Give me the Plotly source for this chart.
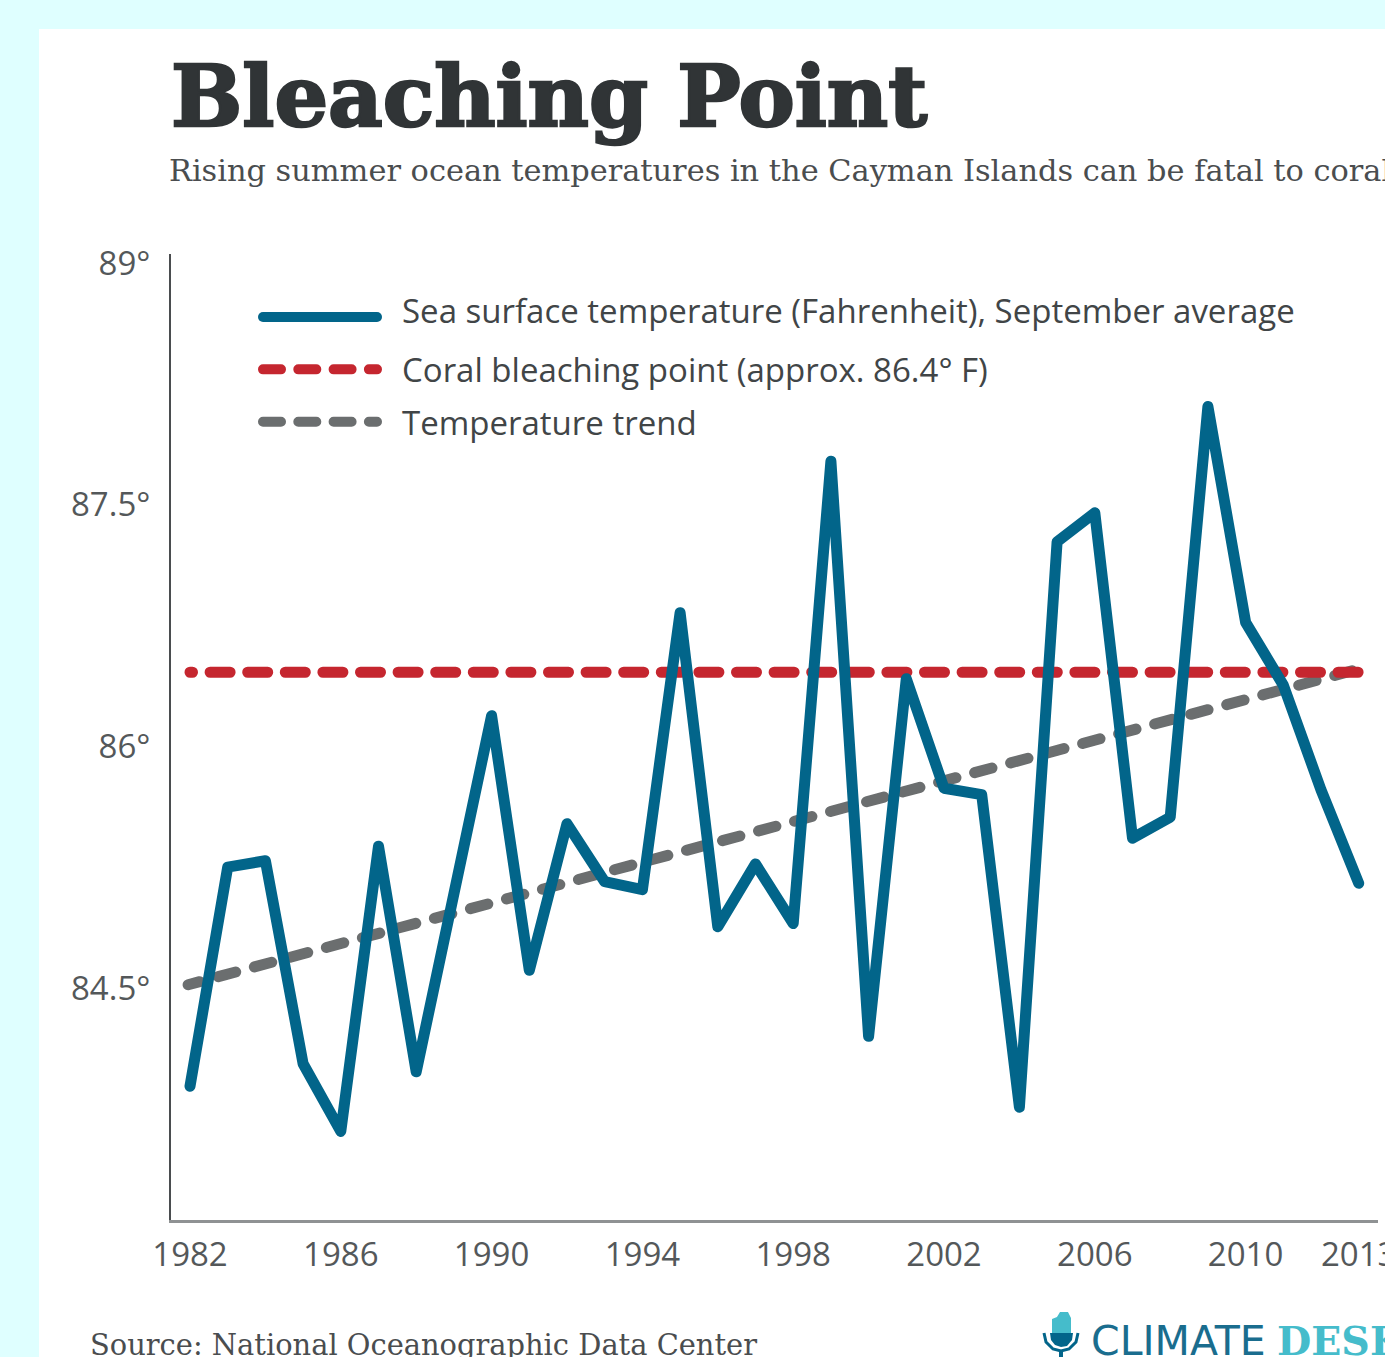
import plotly.graph_objects as go

years = list(range(1982, 2014))
sea_temp = [83.89, 85.25, 85.29, 84.03, 83.61, 85.38, 83.98, 85.09, 86.19, 84.61, 85.52,
            85.16, 85.11, 86.83, 84.88, 85.27, 84.90, 87.77, 84.20, 86.42, 85.74, 85.70,
            83.76, 87.27, 87.45, 85.43, 85.56, 88.11, 86.77, 86.38, 85.73, 85.15]
bleach_x = [1982, 2013]
bleach_y = [86.46, 86.46]
trend_x = [1981.95, 2013]
trend_y = [84.52, 86.48]
x_ticks = [1982, 1986, 1990, 1994, 1998, 2002, 2006, 2010, 2013]
y_ticks = [84.5, 86, 87.5, 89]
y_labels = ["84.5°", "86°", "87.5°", "89°"]

W, H = 1385, 1357
L, R, T, B = 171, 1378, 254, 1220
y_per_px = 1 / 161.1
x_per_px = 1 / 37.7
y_lo = 84.5 - (B - 988) * y_per_px
y_hi = 84.5 + (988 - T) * y_per_px
x_lo = 1982 - (190 - L) * x_per_px
x_hi = 1982 + (R - 190) * x_per_px


def px(x):
    return (x - L) / (R - L)


def py(y):
    return (B - y) / (B - T)


fig = go.Figure()
fig.add_trace(go.Scatter(x=trend_x, y=trend_y, mode="lines", legendrank=3, legendgroup="c",
                         name="Temperature trend",
                         line=dict(color="#6b6e6f", width=11, dash="18px,19.3px")))
fig.add_trace(go.Scatter(x=bleach_x, y=bleach_y, mode="lines", legendrank=2, legendgroup="b",
                         name="Coral bleaching point (approx. 86.4° F)",
                         line=dict(color="#c5262f", width=11, dash="20px,17.6px")))
fig.add_trace(go.Scatter(x=years, y=sea_temp, mode="lines", legendrank=1, legendgroup="a",
                         name="Sea surface temperature (Fahrenheit), September average",
                         line=dict(color="#02658a", width=11)))

fig.add_shape(type="rect", xref="paper", yref="paper", layer="below",
              x0=px(39), x1=px(W + 40), y0=py(H + 40), y1=py(29),
              fillcolor="white", line_width=0)


def logo_path(points):
    return "M " + " L ".join(f"{px(a):.5f},{py(b):.5f}" for a, b in points)


# microphone logo
fig.add_shape(type="path", xref="paper", yref="paper", fillcolor="#45bccb", line_width=0,
              path=logo_path([(1052, 1333), (1052, 1319), (1057, 1317), (1060, 1312), (1068, 1312),
                              (1071, 1318), (1071, 1333)]) + " Z")
fig.add_shape(type="path", xref="paper", yref="paper", fillcolor="#02658a", line_width=0,
              path=logo_path([(1050, 1333), (1073, 1333), (1072, 1340), (1067, 1346), (1061, 1347),
                              (1055, 1345), (1051, 1340)]) + " Z")
fig.add_shape(type="path", xref="paper", yref="paper", line=dict(color="#02658a", width=3),
              path=logo_path([(1044, 1333), (1046, 1342), (1053, 1349), (1061, 1351), (1069, 1349),
                              (1076, 1342), (1078, 1333)]))
fig.add_shape(type="line", xref="paper", yref="paper", line=dict(color="#02658a", width=4),
              x0=px(1061), x1=px(1061), y0=py(1351), y1=py(1360))

ink = "#303436"
fig.add_annotation(xref="paper", yref="paper", x=px(169), y=py(96), xanchor="left", yanchor="middle",
                   text="<b>Bleaching Point</b>", showarrow=False, name="title",
                   font=dict(family="DejaVu Serif", size=84.4, color=ink))
fig.add_annotation(xref="paper", yref="paper", x=px(167), y=py(171), xanchor="left", yanchor="middle",
                   text="Rising summer ocean temperatures in the Cayman Islands can be fatal to coral",
                   showarrow=False, font=dict(family="DejaVu Serif", size=30.4, color="#4a4d4f"))
fig.add_annotation(xref="paper", yref="paper", x=px(88), y=py(1345), xanchor="left", yanchor="middle",
                   text="Source: National Oceanographic Data Center", showarrow=False,
                   font=dict(family="DejaVu Serif", size=28.9, color="#4a4d4f"))
fig.add_annotation(xref="paper", yref="paper", x=px(1089), y=py(1341), xanchor="left", yanchor="middle",
                   text="CLIMATE", showarrow=False,
                   font=dict(family="DejaVu Sans", size=41, color="#1a6d8e"))
fig.add_annotation(xref="paper", yref="paper", x=px(1275), y=py(1341), xanchor="left", yanchor="middle",
                   text="<b>DESK</b>", showarrow=False,
                   font=dict(family="DejaVu Serif", size=39.5, color="#45bccb"))

fig.update_layout(
    width=W, height=H, autosize=False,
    margin=dict(l=L, r=W - R, t=T, b=H - B, pad=0, autoexpand=False),
    paper_bgcolor="#dfffff", plot_bgcolor="rgba(0,0,0,0)",
    font=dict(family="Open Sans", color="#54585a", size=33),
    showlegend=True,
    legend=dict(xref="paper", yref="paper", x=px(258), y=py(289),
                xanchor="left", yanchor="top", bgcolor="rgba(0,0,0,0)", borderwidth=0,
                itemwidth=114, tracegroupgap=6.5, traceorder="grouped",
                font=dict(family="Open Sans", size=33, color="#414547")),
    xaxis=dict(range=[x_lo, x_hi], tickvals=x_ticks, ticktext=[str(v) for v in x_ticks],
               showgrid=False, zeroline=False, showline=True, linecolor="#8f9293", linewidth=3,
               ticks="", tickfont=dict(size=33, color="#54585a"), ticklabelstandoff=3,
               ticklabeloverflow="allow"),
    yaxis=dict(range=[y_lo, y_hi], tickvals=y_ticks, ticktext=y_labels,
               showgrid=False, zeroline=False, showline=True, linecolor="#4a4d4f", linewidth=2,
               ticks="", tickfont=dict(size=33, color="#54585a"), ticklabelstandoff=12),
)

post = """
document.documentElement.style.margin='0';document.body.style.margin='0';document.body.style.overflow='hidden';
document.querySelectorAll('path.js-line').forEach(p=>{
  p.style.strokeLinecap='round';p.style.strokeLinejoin='round';
  var d=p.style.strokeDasharray;
  if(!d||d==='none'){return;}
  if(p.closest('.legend')){p.style.strokeDasharray='18px,17.3px';}
  else if(d.indexOf('20')===0){p.style.strokeDashoffset='17.5px';}
  else{p.style.strokeDashoffset='6px';}
});
document.querySelectorAll('.legend .scrollbox').forEach(s=>s.removeAttribute('clip-path'));
document.querySelectorAll('.legend').forEach(s=>s.removeAttribute('clip-path'));
document.querySelectorAll('.legendtext').forEach(t=>{
  t.setAttribute('x',+t.getAttribute('x')+20);
  if(t.textContent.indexOf('Sea')===0){t.setAttribute('y',+t.getAttribute('y')-7);}
});
var a=document.querySelector('.annotation-text');
if(a){a.style.stroke='#303436';a.style.strokeWidth='2.5px';}
"""
fig.write_html("out.html", post_script=post, config={"displayModeBar": False})
